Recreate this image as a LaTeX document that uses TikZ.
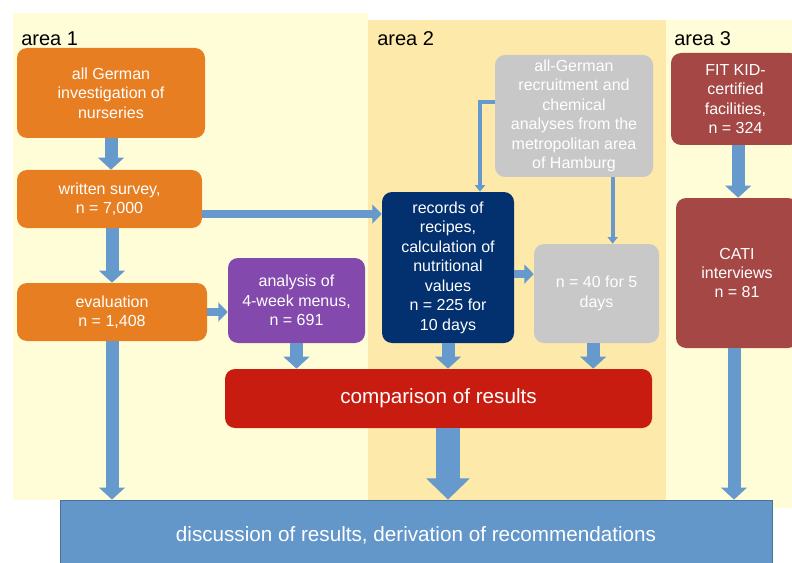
\documentclass[tikz,border=0pt]{standalone}
\usepackage{fontspec}
\setmainfont{Liberation Sans}
\usepackage{tikz}
\usetikzlibrary{arrows.meta}

\definecolor{areapale}{HTML}{FFFCD8}
\definecolor{areadeep}{HTML}{FDE9A9}
\definecolor{nurseryorange}{HTML}{E87E22}
\definecolor{menupurple}{HTML}{8449AD}
\definecolor{recipenavy}{HTML}{03306F}
\definecolor{labgrey}{HTML}{C8C8C8}
\definecolor{fitbrick}{HTML}{A54744}
\definecolor{resultred}{HTML}{C91C10}
\definecolor{flowblue}{HTML}{6699CC}
\definecolor{finalblue}{HTML}{6396C9}

\tikzset{
  box/.style={rectangle, rounded corners=7.5pt, text=white, align=center,
    inner sep=1pt, font=\fontsize{12}{14.6}\selectfont},
  arealabel/.style={anchor=base west, inner sep=0pt, font=\fontsize{15}{18}\selectfont},
  bigarrow/.style={draw=flowblue, line width=9.75pt, -{Triangle[width=19pt,length=9pt]}},
  smallarrow/.style={draw=flowblue, line width=6.5pt, -{Triangle[width=14pt,length=7pt]}},
  hugearrow/.style={draw=flowblue, line width=18pt, -{Triangle[width=32pt,length=16pt]}},
  thinarrow/.style={draw=flowblue, line width=3pt, -{Triangle[width=7.5pt,length=5pt]}}
}

\begin{document}
\begin{tikzpicture}[x=0.75pt,y=-0.75pt]

  \useasboundingbox (0,0) rectangle (792,563);

  % areas
  \fill[areapale] (13,13) rectangle (368,500);
  \fill[areadeep] (368,20) rectangle (666,500);
  \fill[areapale] (666,20) rectangle (792,508);

  \node[arealabel] (area1) at (21,46) {area 1};
  \node[arealabel] (area2) at (377,46) {area 2};
  \node[arealabel] (area3) at (674,46) {area 3};

  % area 1
  \node[box, fill=nurseryorange, minimum width=141pt, minimum height=67.5pt] (german) at (111,93)
    {all German\\investigation of\\nurseries};
  \node[box, fill=nurseryorange, minimum width=138.75pt, minimum height=43.5pt] (survey) at (109.5,199)
    {written survey,\\n = 7,000};
  \node[box, fill=nurseryorange, minimum width=142.5pt, minimum height=43.5pt] (evaluation) at (112,312)
    {evaluation\\n = 1,408};
  \node[box, fill=menupurple, minimum width=102.75pt, minimum height=63.75pt] (menus) at (296.5,300.5)
    {analysis of\\4-week menus,\\n = 691};

  % area 2
  \node[box, fill=recipenavy, minimum width=99pt, minimum height=113.25pt] (records) at (448,267.5)
    {records of\\recipes,\\calculation of\\nutritional\\values\\n = 225 for\\10 days};
  \node[box, fill=labgrey, minimum width=118.5pt, minimum height=91.5pt] (recruit) at (574,116)
    {all-German\\recruitment and\\chemical\\analyses from the\\metropolitan area\\of Hamburg};
  \node[box, fill=labgrey, minimum width=93.75pt, minimum height=74.25pt] (days) at (596.5,293.5)
    {n = 40 for 5\\days};

  % area 3
  \node[box, fill=fitbrick, minimum width=96.75pt, minimum height=69pt] (fitkid) at (735.5,99)
    {FIT KID-\\certified\\facilities,\\n = 324};
  \node[box, fill=fitbrick, minimum width=91.5pt, minimum height=112.5pt] (cati) at (737,273)
    {CATI\\interviews\\n = 81};

  \node[box, fill=resultred, minimum width=320.25pt, minimum height=44.25pt,
    font=\fontsize{15.5}{18}\selectfont] (comparison) at (438.5,398.5) {comparison of results};
  \node[rectangle, fill=finalblue, draw=finalblue!75!black, line width=0.6pt, text=white,
    minimum width=534pt, minimum height=52.5pt, font=\fontsize{15.5}{18}\selectfont]
    (discussion) at (416,535) {discussion of results, derivation of recommendations};

  % connectors
  \draw[bigarrow] (german.south) -- (german.south |- survey.north);
  \draw[bigarrow] (evaluation.north |- survey.south) -- (evaluation.north);
  \draw[smallarrow] ([yshift=-11.25pt]survey.east) -- ([yshift=-11.25pt]survey.east -| records.west);
  \draw[smallarrow] (evaluation.east) -- (evaluation.east -| menus.west);
  \draw[bigarrow] (evaluation.south) -- (evaluation.south |- discussion.north);

  \draw[bigarrow] (menus.south) -- (menus.south |- comparison.north);
  \draw[bigarrow] (records.south) -- (records.south |- comparison.north);
  \draw[bigarrow] ([xshift=-2.5pt]days.south) -- ([xshift=-2.5pt]days.south |- comparison.north);
  \draw[hugearrow] (records.south |- comparison.south) -- (records.south |- discussion.north);

  \draw[smallarrow] ([yshift=-4.9pt]records.east) -- ([yshift=-4.9pt]records.east -| days.west);
  \draw[thinarrow] ([yshift=10.5pt]recruit.west) -| ([xshift=24pt]records.north);
  \draw[thinarrow] ([xshift=29pt]recruit.south) -- ([xshift=29pt]recruit.south |- days.north);

  \draw[bigarrow] ([xshift=2pt]fitkid.south) -- ([xshift=2pt]fitkid.south |- cati.north);
  \draw[bigarrow] ([xshift=-2.25pt]cati.south) -- ([xshift=-2.25pt]cati.south |- discussion.north);

\end{tikzpicture}
\end{document}
